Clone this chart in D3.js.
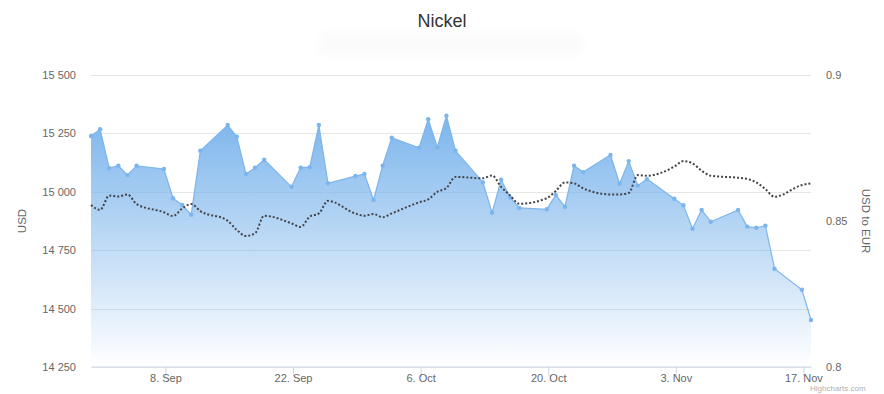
<!DOCTYPE html>
<html><head><meta charset="utf-8">
<script src="https://cdn.jsdelivr.net/npm/d3@7"></script>
<style>
body{margin:0;background:#fff;}
text{font-family:"Liberation Sans", Arial, Helvetica, sans-serif;}
</style>
</head><body>
<svg id="c" width="884" height="394"></svg>
<script>
// ---- data ----
const dates = [
"2025-08-31","2025-09-01","2025-09-02","2025-09-03","2025-09-04","2025-09-05",
"2025-09-08","2025-09-09","2025-09-10","2025-09-11","2025-09-12",
"2025-09-15","2025-09-16","2025-09-17","2025-09-18","2025-09-19",
"2025-09-22","2025-09-23","2025-09-24","2025-09-25","2025-09-26",
"2025-09-29","2025-09-30","2025-10-01","2025-10-02","2025-10-03",
"2025-10-06","2025-10-07","2025-10-08","2025-10-09","2025-10-10",
"2025-10-13","2025-10-14","2025-10-15","2025-10-16","2025-10-17",
"2025-10-20","2025-10-21","2025-10-22","2025-10-23","2025-10-24",
"2025-10-27","2025-10-28","2025-10-29","2025-10-30","2025-10-31",
"2025-11-03","2025-11-04","2025-11-05","2025-11-06","2025-11-07",
"2025-11-10","2025-11-11","2025-11-12","2025-11-13","2025-11-14",
"2025-11-17","2025-11-18"];
const nickelUSD = [
15237,15266,15100,15110,15070,15110,
15096,14971,14942,14901,15174,
15284,15234,15075,15102,15136,
15020,15102,15104,15284,15035,
15066,15075,14964,15110,15230,
15187,15309,15189,15324,15174,
15039,14909,15050,14974,14930,
14924,14985,14935,15110,15083,
15156,15033,15130,15025,15053,
14969,14941,14841,14921,14871,
14921,14850,14845,14854,14670,
14580,14451];
const usdToEur = [
0.8554,0.8537,0.8586,0.8583,0.8590,0.8557,
0.8529,0.8516,0.8542,0.8557,0.8533,
0.8500,0.8468,0.8448,0.8457,0.8517,
0.8491,0.8479,0.8514,0.8525,0.8568,
0.8525,0.8517,0.8523,0.8512,0.8525,
0.8563,0.8573,0.8599,0.8612,0.8650,
0.8645,0.8655,0.8616,0.8586,0.8558,
0.8577,0.8602,0.8631,0.8628,0.8611,
0.8590,0.8590,0.8595,0.8656,0.8654,
0.8685,0.8704,0.8696,0.8671,0.8654,
0.8647,0.8643,0.8631,0.8608,0.8582,
0.8622,0.8628];
const usdTicks = [14250,14500,14750,15000,15250,15500];
const eurTicks = [0.8,0.85,0.9];
const xTickDates = ["2025-09-08","2025-09-22","2025-10-06","2025-10-20","2025-11-03","2025-11-17"];
const title = "Nickel";
const leftTitle = "USD";
const rightTitle = "USD to EUR";

// ---- layout ----
const L = 91, R = 811, T = 74.5, B = 367;
const offsetMs = -4 * 3600 * 1000; // timestamp offset of data points
const parse = d3.utcParse("%Y-%m-%d");
const ts = dates.map(d => new Date(parse(d).getTime() + offsetMs));
const rows = ts.map((t, i) => ({t, usd: nickelUSD[i], eur: usdToEur[i]}));

const svg = d3.select("#c");
const x = d3.scaleUtc().domain(d3.extent(ts)).range([L, R]);
const yL = d3.scaleLinear().domain([14250, 15500]).range([B, T]);
const yR = d3.scaleLinear().domain([0.8, 0.9]).range([B, T]);

// faint subtitle box
const defs = svg.append("defs");
defs.append("filter").attr("id","blur").append("feGaussianBlur").attr("stdDeviation",3);
svg.append("rect").attr("x",318).attr("y",31).attr("width",266).attr("height",26)
  .attr("rx",10).attr("fill","#f9f9f9").attr("filter","url(#blur)").attr("opacity",0.6);

// title
svg.append("text").attr("x",442).attr("y",27).attr("text-anchor","middle")
  .attr("font-size",18).attr("fill","#333333").text(title);

// gridlines
svg.append("g").selectAll("line").data(usdTicks).join("line")
  .attr("x1",L).attr("x2",R).attr("y1",d=>Math.round(yL(d))+0.5).attr("y2",d=>Math.round(yL(d))+0.5)
  .attr("stroke","#e6e6e6").attr("stroke-width",1);

// gradient
const grad = defs.append("linearGradient").attr("id","ag")
  .attr("x1",0).attr("y1",0).attr("x2",0).attr("y2",1);
grad.append("stop").attr("offset","0").attr("stop-color","#7cb5ec").attr("stop-opacity",1);
grad.append("stop").attr("offset","1").attr("stop-color","#7cb5ec").attr("stop-opacity",0);

// area
const area = d3.area().x(d=>x(d.t)).y0(B).y1(d=>yL(d.usd));
svg.append("path").datum(rows).attr("d",area).attr("fill","url(#ag)");
const line = d3.line().x(d=>x(d.t)).y(d=>yL(d.usd));
svg.append("path").datum(rows).attr("d",line).attr("fill","none")
  .attr("stroke","#7cb5ec").attr("stroke-width",1.2);
svg.append("g").selectAll("circle").data(rows).join("circle")
  .attr("cx",d=>x(d.t)).attr("cy",d=>yL(d.usd)).attr("r",2.2).attr("fill","#7cb5ec");

// dotted EUR line
const eLine = d3.line().curve(d3.curveMonotoneX).x(d=>x(d.t)).y(d=>yR(d.eur));
svg.append("path").datum(rows).attr("d",eLine).attr("fill","none")
  .attr("stroke","#434348").attr("stroke-width",2).attr("stroke-dasharray","2,2");

// x axis
const xa = svg.append("g").attr("transform",`translate(0,${B-0.5})`)
  .call(d3.axisBottom(x).tickValues(xTickDates.map(parse)).tickFormat(d3.utcFormat("%-d. %b")).tickSize(10).tickSizeOuter(0));
xa.select(".domain").attr("stroke","#ccd6eb");
xa.selectAll(".tick line").attr("stroke","#ccd6eb");
xa.selectAll("text").attr("fill","#666666").attr("font-size",11).attr("dy","0.55em").attr("y",9);

// left axis
const la = svg.append("g").attr("transform",`translate(${L},0)`)
  .call(d3.axisLeft(yL).tickValues(usdTicks).tickFormat(d=>d3.format(",")(d).replace(/,/g," ")).tickSize(0).tickPadding(15));
la.select(".domain").remove();
la.selectAll("text").attr("fill","#666666").attr("font-size",11);

// right axis
const ra = svg.append("g").attr("transform",`translate(${R},0)`)
  .call(d3.axisRight(yR).tickValues(eurTicks).tickFormat(d=>String(d)).tickSize(0).tickPadding(15));
ra.select(".domain").remove();
ra.selectAll("text").attr("fill","#666666").attr("font-size",11);

// axis titles
svg.append("text").attr("transform","translate(26,221) rotate(-90)").attr("text-anchor","middle")
  .attr("font-size",11.5).attr("fill","#666666").text(leftTitle);
svg.append("text").attr("transform","translate(862,221) rotate(90)").attr("text-anchor","middle")
  .attr("font-size",11.5).attr("fill","#666666").text(rightTitle);

// credits
svg.append("text").attr("x",810).attr("y",391).attr("font-size",8).attr("fill","#b0b0b0").text("Highcharts.com");
</script>
</body></html>
